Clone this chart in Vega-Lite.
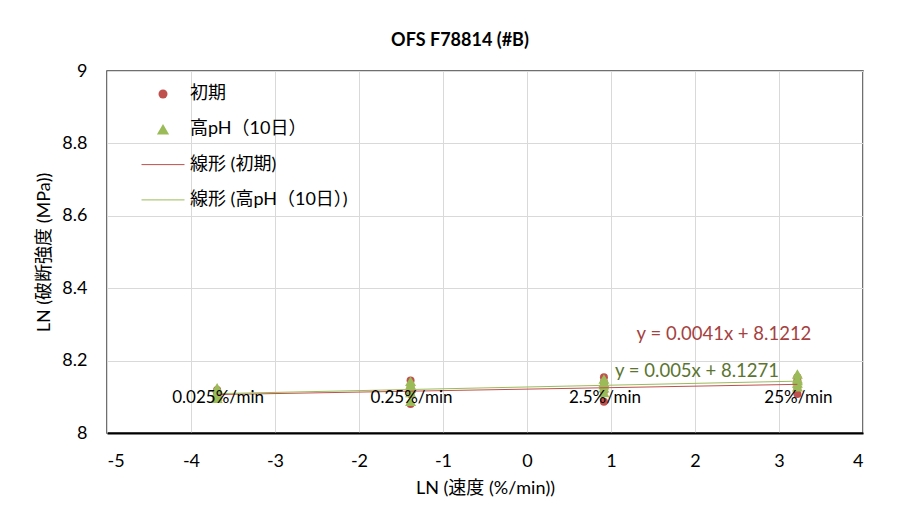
{
  "$schema": "https://vega.github.io/schema/vega-lite/v6.json",
  "width": 756,
  "height": 362,
  "autosize": "none",
  "padding": {"left": 107, "top": 71, "right": 38, "bottom": 76},
  "background": "white",
  "config": {
    "font": "Lato, 'Noto Sans CJK JP', sans-serif",
    "view": {"stroke": "#404040", "strokeWidth": 1.5},
    "axis": {
      "gridColor": "#D9D9D9", "gridWidth": 1, "ticks": false, "domain": false,
      "labelFontSize": 18, "labelColor": "#000000", "labelFont": "Lato, 'Noto Sans CJK JP', sans-serif",
      "titleFontSize": 18, "titleFontWeight": "normal", "titleColor": "#000000", "titleFont": "Lato, 'Noto Sans CJK JP', sans-serif"
    }
  },
  "title": {"text": "OFS F78814 (#B)", "fontSize": 18, "fontWeight": "bold", "color": "#000000", "frame": "group", "anchor": "middle", "dx": -25, "offset": 12, "font": "Lato, sans-serif"},
  "datasets": {
    "pts": [
      {"lnv": -3.689, "val": 8.095, "series": "初期"},
      {"lnv": -3.689, "val": 8.100, "series": "初期"},
      {"lnv": -3.689, "val": 8.106, "series": "初期"},
      {"lnv": -3.689, "val": 8.110, "series": "初期"},
      {"lnv": -3.689, "val": 8.119, "series": "初期"},
      {"lnv": -1.386, "val": 8.080, "series": "初期"},
      {"lnv": -1.386, "val": 8.108, "series": "初期"},
      {"lnv": -1.386, "val": 8.118, "series": "初期"},
      {"lnv": -1.386, "val": 8.127, "series": "初期"},
      {"lnv": -1.386, "val": 8.145, "series": "初期"},
      {"lnv": 0.916, "val": 8.086, "series": "初期"},
      {"lnv": 0.916, "val": 8.115, "series": "初期"},
      {"lnv": 0.916, "val": 8.130, "series": "初期"},
      {"lnv": 0.916, "val": 8.140, "series": "初期"},
      {"lnv": 0.916, "val": 8.154, "series": "初期"},
      {"lnv": 3.219, "val": 8.108, "series": "初期"},
      {"lnv": 3.219, "val": 8.125, "series": "初期"},
      {"lnv": 3.219, "val": 8.138, "series": "初期"},
      {"lnv": 3.219, "val": 8.145, "series": "初期"},
      {"lnv": 3.219, "val": 8.154, "series": "初期"},
      {"lnv": -3.689, "val": 8.096, "series": "高pH（10日）"},
      {"lnv": -3.689, "val": 8.102, "series": "高pH（10日）"},
      {"lnv": -3.689, "val": 8.108, "series": "高pH（10日）"},
      {"lnv": -3.689, "val": 8.113, "series": "高pH（10日）"},
      {"lnv": -3.689, "val": 8.125, "series": "高pH（10日）"},
      {"lnv": -1.386, "val": 8.088, "series": "高pH（10日）"},
      {"lnv": -1.386, "val": 8.112, "series": "高pH（10日）"},
      {"lnv": -1.386, "val": 8.124, "series": "高pH（10日）"},
      {"lnv": -1.386, "val": 8.133, "series": "高pH（10日）"},
      {"lnv": -1.386, "val": 8.143, "series": "高pH（10日）"},
      {"lnv": 0.916, "val": 8.112, "series": "高pH（10日）"},
      {"lnv": 0.916, "val": 8.125, "series": "高pH（10日）"},
      {"lnv": 0.916, "val": 8.133, "series": "高pH（10日）"},
      {"lnv": 0.916, "val": 8.140, "series": "高pH（10日）"},
      {"lnv": 0.916, "val": 8.149, "series": "高pH（10日）"},
      {"lnv": 3.219, "val": 8.128, "series": "高pH（10日）"},
      {"lnv": 3.219, "val": 8.138, "series": "高pH（10日）"},
      {"lnv": 3.219, "val": 8.145, "series": "高pH（10日）"},
      {"lnv": 3.219, "val": 8.150, "series": "高pH（10日）"},
      {"lnv": 3.219, "val": 8.163, "series": "高pH（10日）"}
    ],
    "trend": [
      {"lnv": -3.689, "val": 8.1061, "series": "線形 (初期)"},
      {"lnv": 3.219, "val": 8.1344, "series": "線形 (初期)"},
      {"lnv": -3.689, "val": 8.1087, "series": "線形 (高pH（10日）)"},
      {"lnv": 3.219, "val": 8.1432, "series": "線形 (高pH（10日）)"}
    ],
    "labels": [
      {"lnv": -3.689, "val": 8.096, "label": "0.025%/min"},
      {"lnv": -1.386, "val": 8.096, "label": "0.25%/min"},
      {"lnv": 0.916, "val": 8.096, "label": "2.5%/min"},
      {"lnv": 3.219, "val": 8.096, "label": "25%/min"}
    ],
    "eqs": [
      {"lnv": 2.345, "val": 8.2735, "label": "y = 0.0041x + 8.1212", "series": "初期"},
      {"lnv": 2.024, "val": 8.171, "label": "y = 0.005x + 8.1271", "series": "高pH（10日）"}
    ]
  },
  "layer": [
    {
      "data": {"name": "pts"},
      "transform": [{"filter": "datum.series === '初期'"}],
      "mark": {"type": "point", "filled": true, "size": 64, "opacity": 1},
      "encoding": {
        "x": {"field": "lnv", "type": "quantitative", "scale": {"domain": [-5, 4], "nice": false, "zero": false},
          "axis": {"title": "LN (速度 (%/min))", "values": [-5, -4, -3, -2, -1, 0, 1, 2, 3, 4], "labelExpr": "'' + datum.value", "labelPadding": 19, "titlePadding": 9, "domain": true, "domainColor": "#000000", "domainWidth": 2}},
        "y": {"field": "val", "type": "quantitative", "scale": {"domain": [8, 9], "nice": false, "zero": false},
          "axis": {"title": "LN (破断強度 (MPa))", "values": [8, 8.2, 8.4, 8.6, 8.8, 9], "labelExpr": "'' + datum.value", "labelPadding": 20, "titlePadding": 8}},
        "color": {"field": "series", "type": "nominal",
          "scale": {"domain": ["初期", "高pH（10日）", "線形 (初期)", "線形 (高pH（10日）)"], "range": ["#C0504D", "#9BBB59", "#C0504D", "#9BBB59"]},
          "legend": {"orient": "none", "legendX": 47, "legendY": 14, "title": null, "padding": 0,
            "labelFontSize": 18, "labelOffset": 18, "labelLimit": 400, "rowPadding": 17.3, "symbolSize": 100, "symbolOpacity": 1,
            "labelColor": "#000000", "labelFont": "Lato, 'Noto Sans CJK JP', sans-serif",
            "encode": {"symbols": {"update": {
              "stroke": {"scale": "color", "field": "value"},
              "strokeWidth": {"signal": "datum.index >= 2 ? 1 : 0"},
              "size": {"signal": "datum.index == 0 ? 81 : datum.index == 1 ? 150 : 100"}
            }}}}},
        "shape": {"field": "series", "type": "nominal",
          "scale": {"domain": ["初期", "高pH（10日）", "線形 (初期)", "線形 (高pH（10日）)"], "range": ["circle", "triangle-up", "M-4.3,0L4.3,0", "M-4.3,0L4.3,0"]},
          "legend": {"orient": "none", "legendX": 47, "legendY": 14, "title": null, "padding": 0,
            "labelFontSize": 18, "labelOffset": 18, "labelLimit": 400, "rowPadding": 17.3, "symbolSize": 100, "symbolOpacity": 1,
            "labelColor": "#000000", "labelFont": "Lato, 'Noto Sans CJK JP', sans-serif",
            "encode": {"symbols": {"update": {
              "stroke": {"scale": "color", "field": "value"},
              "strokeWidth": {"signal": "datum.index >= 2 ? 1 : 0"},
              "size": {"signal": "datum.index == 0 ? 81 : datum.index == 1 ? 150 : 100"}
            }}}}}
      }
    },
    {
      "data": {"name": "pts"},
      "transform": [{"filter": "datum.series !== '初期'"}],
      "mark": {"type": "point", "filled": true, "size": 121, "opacity": 1},
      "encoding": {
        "x": {"field": "lnv", "type": "quantitative"},
        "y": {"field": "val", "type": "quantitative"},
        "color": {"field": "series", "type": "nominal"},
        "shape": {"field": "series", "type": "nominal"}
      }
    },
    {
      "data": {"name": "trend"},
      "transform": [{"filter": "datum.series === '線形 (初期)'"}],
      "mark": {"type": "line", "color": "#C0504D", "strokeWidth": 1},
      "encoding": {
        "x": {"field": "lnv", "type": "quantitative"},
        "y": {"field": "val", "type": "quantitative"}
      }
    },
    {
      "data": {"name": "trend"},
      "transform": [{"filter": "datum.series !== '線形 (初期)'"}],
      "mark": {"type": "line", "color": "#9BBB59", "strokeWidth": 1},
      "encoding": {
        "x": {"field": "lnv", "type": "quantitative"},
        "y": {"field": "val", "type": "quantitative"}
      }
    },
    {
      "data": {"name": "labels"},
      "mark": {"type": "text", "fontSize": 17, "color": "#000000", "align": "center", "baseline": "middle", "dx": 1},
      "encoding": {
        "x": {"field": "lnv", "type": "quantitative"},
        "y": {"field": "val", "type": "quantitative"},
        "text": {"field": "label"}
      }
    },
    {
      "data": {"name": "eqs"},
      "transform": [{"filter": "datum.series === '初期'"}],
      "mark": {"type": "text", "fontSize": 18.5, "color": "#A5423F", "align": "center", "baseline": "middle"},
      "encoding": {
        "x": {"field": "lnv", "type": "quantitative"},
        "y": {"field": "val", "type": "quantitative"},
        "text": {"field": "label"}
      }
    },
    {
      "data": {"name": "eqs"},
      "transform": [{"filter": "datum.series !== '初期'"}],
      "mark": {"type": "text", "fontSize": 18.5, "color": "#5B7530", "align": "center", "baseline": "middle"},
      "encoding": {
        "x": {"field": "lnv", "type": "quantitative"},
        "y": {"field": "val", "type": "quantitative"},
        "text": {"field": "label"}
      }
    }
  ]
}
